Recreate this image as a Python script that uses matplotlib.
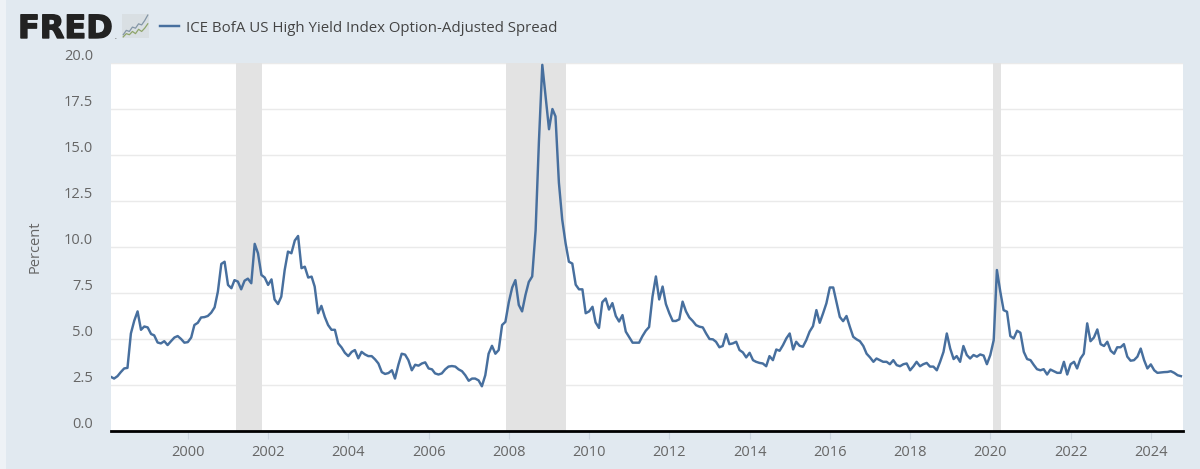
# -*- coding: utf-8 -*-
"""ICE BofA US High Yield OAS, FRED style chart"""

import numpy as np
import pandas as pd
import matplotlib
matplotlib.use("Agg")
import matplotlib.pyplot as plt
import matplotlib.dates as mdates
import matplotlib.patheffects as pe
from matplotlib.patches import Rectangle
from matplotlib.transforms import blended_transform_factory

# monthly values, series starts Feb 1998
y1998 = [2.94, 2.85, 2.98, 3.2, 3.4, 3.43, 5.3, 6.0, 6.5, 5.5, 5.68]
y1999 = [5.63, 5.27, 5.2, 4.81, 4.76, 4.88, 4.67, 4.88, 5.08, 5.16, 5.0, 4.8]
y2000 = [4.83, 5.08, 5.76, 5.88, 6.17, 6.19, 6.25, 6.43, 6.72, 7.58, 9.08, 9.2]
y2001 = [7.94, 7.76, 8.2, 8.12, 7.7, 8.17, 8.28, 8.03, 10.17, 9.66, 8.48, 8.34]
y2002 = [7.94, 8.24, 7.15, 6.9, 7.3, 8.75, 9.75, 9.66, 10.35, 10.6, 8.85, 8.93]
y2003 = [8.34, 8.39, 7.85, 6.4, 6.8, 6.2, 5.76, 5.5, 5.5, 4.76, 4.54, 4.25]
y2004 = [4.07, 4.3, 4.4, 3.95, 4.3, 4.16, 4.07, 4.07, 3.89, 3.67, 3.2, 3.1]
y2005 = [3.15, 3.3, 2.85, 3.6, 4.2, 4.15, 3.85, 3.3, 3.6, 3.55, 3.67, 3.73]
y2006 = [3.4, 3.35, 3.13, 3.07, 3.13, 3.35, 3.5, 3.53, 3.5, 3.35, 3.25, 3.03]
y2007 = [2.73, 2.85, 2.85, 2.75, 2.43, 3.03, 4.2, 4.63, 4.2, 4.4, 5.76, 5.93]
y2008 = [7.0, 7.8, 8.2, 6.85, 6.5, 7.4, 8.1, 8.4, 10.9, 15.7, 19.9, 18.2]
y2009 = [16.4, 17.5, 17.1, 13.5, 11.5, 10.2, 9.2, 9.1, 7.95, 7.7, 7.7, 6.4]
y2010 = [6.5, 6.75, 5.9, 5.6, 7.0, 7.2, 6.6, 6.95, 6.25, 5.95, 6.3, 5.4]
y2011 = [5.1, 4.8, 4.8, 4.8, 5.15, 5.45, 5.65, 7.3, 8.4, 7.15, 7.85, 6.9]
y2012 = [6.4, 5.98, 5.98, 6.07, 7.03, 6.5, 6.17, 5.98, 5.75, 5.67, 5.63, 5.3]
y2013 = [5.0, 4.98, 4.85, 4.55, 4.62, 5.27, 4.72, 4.76, 4.85, 4.4, 4.27, 4.0]
y2014 = [4.25, 3.85, 3.76, 3.7, 3.67, 3.52, 4.07, 3.85, 4.43, 4.36, 4.67, 5.03]
y2015 = [5.3, 4.43, 4.85, 4.63, 4.58, 4.94, 5.4, 5.7, 6.57, 5.88, 6.4, 6.94]
y2016 = [7.8, 7.8, 7.03, 6.2, 5.97, 6.25, 5.67, 5.12, 4.98, 4.88, 4.62, 4.2]
y2017 = [4.0, 3.76, 3.94, 3.85, 3.76, 3.76, 3.63, 3.85, 3.58, 3.52, 3.63, 3.67]
y2018 = [3.3, 3.52, 3.76, 3.52, 3.63, 3.7, 3.5, 3.5, 3.3, 3.76, 4.3, 5.3]
y2019 = [4.48, 3.91, 4.07, 3.76, 4.62, 4.13, 3.94, 4.13, 4.04, 4.16, 4.1, 3.63]
y2020 = [4.13, 4.94, 8.75, 7.57, 6.57, 6.48, 5.16, 5.03, 5.45, 5.34, 4.3, 3.91]
y2021 = [3.85, 3.58, 3.36, 3.3, 3.36, 3.07, 3.34, 3.25, 3.16, 3.16, 3.76, 3.07]
y2022 = [3.63, 3.76, 3.4, 3.94, 4.2, 5.85, 4.88, 5.08, 5.52, 4.72, 4.62, 4.85]
y2023 = [4.36, 4.2, 4.55, 4.55, 4.72, 4.04, 3.82, 3.85, 4.04, 4.48, 3.85, 3.4]
y2024 = [3.62, 3.3, 3.16, 3.18, 3.2, 3.21, 3.25, 3.16, 3.03, 2.98]

spread = (y1998 + y1999 + y2000 + y2001 + y2002 + y2003 + y2004 + y2005 + y2006
          + y2007 + y2008 + y2009 + y2010 + y2011 + y2012 + y2013 + y2014 + y2015
          + y2016 + y2017 + y2018 + y2019 + y2020 + y2021 + y2022 + y2023 + y2024)

recessions = [("2001-03-18", "2001-11-05"), ("2007-12-10", "2009-06-01"), ("2020-01-28", "2020-04-07")]
y_ticks = [0.0, 2.5, 5.0, 7.5, 10.0, 12.5, 15.0, 17.5, 20.0]
x_years = list(range(2000, 2026, 2))
icon_a = [0, 1, 2, 3, 4, 5, 6, 7, 8]
icon_b = [1, 3, 2.5, 4.5, 4, 6, 5.5, 7.5, 10]
icon_c = [0, 1.5, 1, 2.5, 1.5, 3.5, 2.5, 4, 6]

BG = "#E1E9F0"
LINE = "#476F9E"
TXT = "#666666"
W, H = 1200, 469

fig = plt.figure(figsize=(W / 100, H / 100), dpi=100, facecolor=BG)
plt.rcParams["font.family"] = ["Open Sans", "DejaVu Sans"]
ax = fig.add_axes([111 / W, 1 - 431 / H, (1183 - 111) / W, (431 - 63) / H], facecolor="white")

# paler strip down the left edge of the screenshot
fig.add_artist(Rectangle((0, 0), 6 / W, 1, transform=fig.transFigure, facecolor="#EEF2F6", lw=0))

dates = pd.date_range("1998-02-01", periods=len(spread), freq="MS")

for start, end in recessions:
    ax.axvspan(pd.Timestamp(start), pd.Timestamp(end), color="#E3E3E3", lw=0, zorder=1)
ax.plot(dates, spread, color=LINE, lw=1.75, zorder=3, solid_joinstyle="round")

ax.set_xlim(pd.Timestamp("1998-02-01"), pd.Timestamp("2024-10-20"))
ax.set_ylim(0, 20)

ax.set_yticks(y_ticks)
ax.set_yticklabels([])
ax.tick_params(axis="y", length=0)
ax.grid(axis="y", color="#EAEAEA", lw=1.0, zorder=0)
ax.set_axisbelow(True)

ax.set_xticks([pd.Timestamp(f"{yr}-01-01") for yr in x_years if yr < 2025])
ax.xaxis.set_major_formatter(mdates.DateFormatter("%Y"))
ax.tick_params(axis="x", length=6, width=0.8, color="#CBD5DF", labelcolor=TXT, labelsize=10.5, pad=4)

for side in ["top", "left", "right"]:
    ax.spines[side].set_visible(False)
ax.spines["bottom"].set_color("black")
ax.spines["bottom"].set_linewidth(2)

# labels sit a bit above their gridlines
tr = blended_transform_factory(ax.transAxes, ax.transData)
for v in y_ticks:
    ax.annotate(f"{v:.1f}", (0, v), xycoords=tr, xytext=(-13, 5), textcoords="offset points",
                ha="right", va="center", color=TXT, fontsize=10.5)

fig.text(35 / W, 1 - 247 / H, "Percent", rotation=90, ha="center", va="center", color=TXT, fontsize=10.5)

# header
logo = fig.text(18 / W, 1 - 38 / H, "FRED", family="DejaVu Sans", fontweight="bold", fontsize=23,
                color="#222222", ha="left", va="baseline")
logo.set_path_effects([pe.withStroke(linewidth=1.0, foreground="#222222")])
fig.text(114 / W, 1 - 39 / H, ".", family="DejaVu Sans", fontsize=8, color="#777777", ha="left", va="baseline")
icon = fig.add_axes([122 / W, 1 - 38 / H, 27 / W, 24 / H], facecolor="#D9DFE3")
icon.plot(icon_a, icon_b, color="#8496A6", lw=0.9)
icon.plot(icon_a, icon_c, color="#8FA56B", lw=0.9)
icon.set_xticks([])
icon.set_yticks([])
for s in icon.spines.values():
    s.set_visible(False)

fig.add_artist(plt.Line2D([160 / W, 179 / W], [1 - 26 / H, 1 - 26 / H], color=LINE, lw=1.75))
fig.text(186 / W, 1 - 28.5 / H, "ICE BofA US High Yield Index Option-Adjusted Spread",
         color="#444444", fontsize=10.8, ha="left", va="center")

fig.savefig("out.png", dpi=100, facecolor=BG)
